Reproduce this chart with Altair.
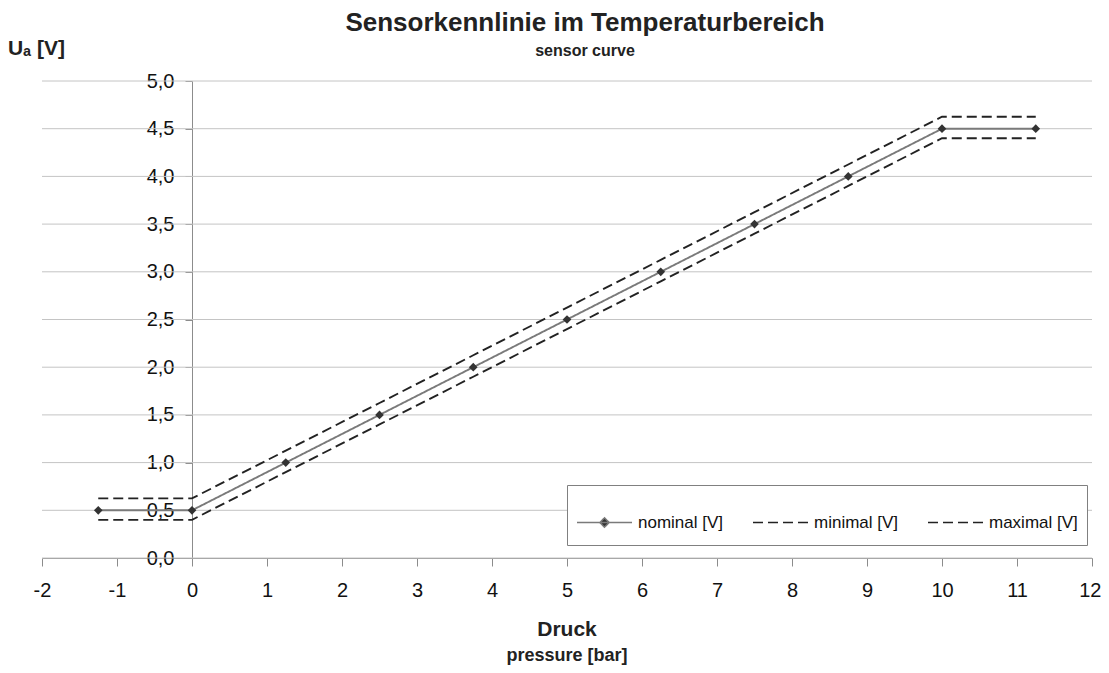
import altair as alt
import pandas as pd

# ---- data ----
x_vals = [-1.25, 0, 1.25, 2.5, 3.75, 5, 6.25, 7.5, 8.75, 10, 11.25]
nominal = [0.5, 0.5, 1.0, 1.5, 2.0, 2.5, 3.0, 3.5, 4.0, 4.5, 4.5]
minimal = [0.4, 0.4, 0.9, 1.4, 1.9, 2.4, 2.9, 3.4, 3.9, 4.4, 4.4]
maximal = [0.625, 0.625, 1.125, 1.625, 2.125, 2.625, 3.125, 3.625, 4.125, 4.625, 4.625]
series_names = ["nominal [V]", "minimal [V]", "maximal [V]"]
x_ticks = [-2, -1, 0, 1, 2, 3, 4, 5, 6, 7, 8, 9, 10, 11, 12]
y_ticks = [0.0, 0.5, 1.0, 1.5, 2.0, 2.5, 3.0, 3.5, 4.0, 4.5, 5.0]

title_text = "Sensorkennlinie im Temperaturbereich"
subtitle_text = "sensor curve"
x_title = "Druck"
x_subtitle = "pressure [bar]"
y_title = "Uₐ [V]"

rows = []
for name, vals in zip(series_names, [nominal, minimal, maximal]):
    for xv, yv in zip(x_vals, vals):
        rows.append({"x": xv, "y": yv, "series": name})
df = pd.DataFrame(rows)
df_nom = df[df["series"] == series_names[0]]
df_grid = pd.DataFrame({"t": y_ticks})

FONT = "Liberation Sans"
W, H = 1050, 477

x_scale = alt.Scale(domain=[-2, 12], nice=False, zero=False)
y_scale = alt.Scale(domain=[0, 5], nice=False, zero=False)

x_axis = alt.Axis(values=x_ticks, labelExpr="toString(datum.value)", title=None, grid=False,
                  tickSize=8, labelPadding=14, labelFontSize=20, labelFont=FONT,
                  labelColor="#111111", domainColor="#8c8c8c", tickColor="#8c8c8c",
                  labelFlush=True, labelFlushOffset=9, labelOverlap=False)
y_axis = alt.Axis(values=y_ticks, title=None, grid=False, offset=-150,
                  labelExpr="replace(format(datum.value, '.1f'), '.', ',')",
                  tickSize=7, labelPadding=11, labelFontSize=20, labelFont=FONT,
                  labelColor="#111111", domainColor="#8c8c8c", tickColor="#8c8c8c",
                  labelOverlap=False)

nom_path = "M0,-0.38M0,0.38M-1,0H1M0,-0.17L0.17,0L0,0.17L-0.17,0Z"
dash_path = "M0,-0.38M0,0.38M-1,0H1"
is_nom = "datum.value == 'nominal [V]'"

legend = alt.Legend(
    title=None, orient="none", legendX=525, legendY=404, direction="horizontal",
    symbolSize=3025, symbolStrokeWidth=1.5, labelFont=FONT, labelFontSize=17,
    labelColor="#111111", labelOffset=5, columnPadding=26, padding=9,
    strokeColor="#808080", fillColor="white", symbolOpacity=1,
    symbolType=alt.ExprRef(expr=f"{is_nom} ? '{nom_path}' : '{dash_path}'"),
    symbolDash=alt.ExprRef(expr=f"{is_nom} ? [1, 0] : [7, 5]"),
    symbolFillColor=alt.ExprRef(expr=f"{is_nom} ? '#333333' : 'transparent'"),
    symbolStrokeColor=alt.ExprRef(expr=f"{is_nom} ? '#555555' : '#222222'"),
)

grid = alt.Chart(df_grid).mark_rule(color="#c4c4c4", strokeWidth=1).encode(
    y=alt.Y("t:Q", scale=y_scale, axis=y_axis)
)

lines = alt.Chart(df).mark_line(strokeWidth=1.9).encode(
    x=alt.X("x:Q", scale=x_scale, axis=x_axis),
    y=alt.Y("y:Q", scale=y_scale, axis=y_axis),
    color=alt.Color("series:N", scale=alt.Scale(domain=series_names,
                    range=["#7a7a7a", "#222222", "#222222"]), legend=legend),
    strokeDash=alt.StrokeDash("series:N", scale=alt.Scale(domain=series_names,
                    range=[[1, 0], [10, 5], [10, 5]]), legend=None),
)

points = alt.Chart(df_nom).mark_point(shape="diamond", filled=True, size=75,
                                      color="#333333", opacity=1).encode(
    x=alt.X("x:Q", scale=x_scale, axis=x_axis),
    y=alt.Y("y:Q", scale=y_scale, axis=y_axis),
)

t1 = alt.Chart(pd.DataFrame({"label": [x_title]})).mark_text(
    font=FONT, fontSize=21, fontWeight="bold", color="#222222",
    align="center", baseline="middle").encode(
    x=alt.value(W / 2), y=alt.value(549), text="label:N")
t2 = alt.Chart(pd.DataFrame({"label": [x_subtitle]})).mark_text(
    font=FONT, fontSize=18, fontWeight="bold", color="#222222",
    align="center", baseline="middle").encode(
    x=alt.value(W / 2), y=alt.value(575), text="label:N")
t3 = alt.Chart(pd.DataFrame({"label": [y_title]})).mark_text(
    font=FONT, fontSize=21, fontWeight="bold", color="#222222",
    align="left", baseline="middle").encode(
    x=alt.value(-34), y=alt.value(-32), text="label:N")

chart = alt.layer(grid, lines, points, t1, t2, t3).properties(
    width=W, height=H,
    padding={"left": 34, "top": 73, "right": 9, "bottom": 107},
    autosize="none",
    background="white",
    title=alt.TitleParams(text=title_text, subtitle=subtitle_text, font=FONT,
                          fontSize=26, fontWeight="bold", color="#222222",
                          subtitleFont=FONT, subtitleFontSize=16,
                          subtitleFontWeight="bold", subtitleColor="#222222",
                          anchor="middle", frame="group", offset=-21, dx=18,
                          subtitlePadding=7),
).configure_view(stroke=None)

chart.save("out.html", embed_options={"renderer": "svg", "actions": False})
